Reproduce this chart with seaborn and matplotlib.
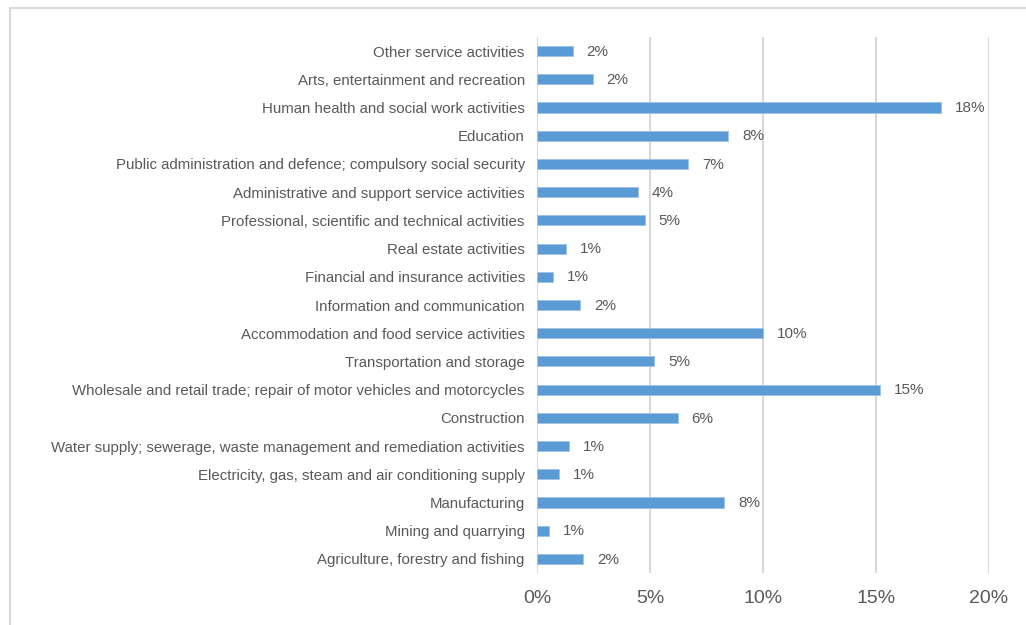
import matplotlib
matplotlib.use("Agg")
import matplotlib.pyplot as plt
from matplotlib.patches import Rectangle
import pandas as pd
import seaborn as sns

# Share of employment by industry section (top to bottom)
sectors = [
    "Other service activities",
    "Arts, entertainment and recreation",
    "Human health and social work activities",
    "Education",
    "Public administration and defence; compulsory social security",
    "Administrative and support service activities",
    "Professional, scientific and technical activities",
    "Real estate activities",
    "Financial and insurance activities",
    "Information and communication",
    "Accommodation and food service activities",
    "Transportation and storage",
    "Wholesale and retail trade; repair of motor vehicles and motorcycles",
    "Construction",
    "Water supply; sewerage, waste management and remediation activities",
    "Electricity, gas, steam and air conditioning supply",
    "Manufacturing",
    "Mining and quarrying",
    "Agriculture, forestry and fishing",
]
shares = [
    1.57, 2.45, 17.87, 8.46, 6.69, 4.46, 4.76, 1.26, 0.70, 1.91,
    10.0, 5.17, 15.2, 6.22, 1.40, 0.96, 8.29, 0.52, 2.04,
]
x_ticks = [0, 5, 10, 15, 20]

df = pd.DataFrame({"sector": sectors, "share": shares})

sns.set_theme(style="white")
plt.rcParams["font.family"] = ["Liberation Sans", "DejaVu Sans"]

text_color = "#595959"
grid_color = "#D9D9D9"
bar_color = "#5B9BD5"

fig = plt.figure(figsize=(10.26, 6.25), dpi=100)
ax = fig.add_axes([0.5237, 0.0832, 0.4399, 0.8576])

sns.barplot(data=df, x="share", y="sector", order=sectors, color=bar_color,
            saturation=1, width=0.36, orient="h", ax=ax, zorder=3,
            edgecolor="#9DC3E6", linewidth=0.6)

ax.set_xlim(0, 20)
ax.set_ylim(len(sectors) - 0.5, -0.5)
ax.set_xticks(x_ticks)
ax.set_xticklabels([f"{t}%" for t in x_ticks], fontsize=14, color=text_color)
ax.tick_params(axis="x", length=0, pad=12)
ax.tick_params(axis="y", length=0, pad=9, labelsize=10.85, labelcolor=text_color)
ax.set_xlabel("")
ax.set_ylabel("")

for t in x_ticks:
    ax.axvline(t, color=grid_color, linewidth=1.5, zorder=1)

for spine in ax.spines.values():
    spine.set_visible(False)

for i, v in enumerate(shares):
    ax.annotate(f"{int(v + 0.5)}%", xy=(v, i), xytext=(10, -0.5),
                textcoords="offset points", va="center", ha="left",
                fontsize=11, color=text_color)

# Chart-area frame
fig.patches.append(Rectangle((10 / 1026, -0.1), 1.2, 1 - 8 / 625 + 0.1,
                             transform=fig.transFigure, fill=False,
                             edgecolor=grid_color, linewidth=1.5))

fig.savefig("out.png", dpi=100)
